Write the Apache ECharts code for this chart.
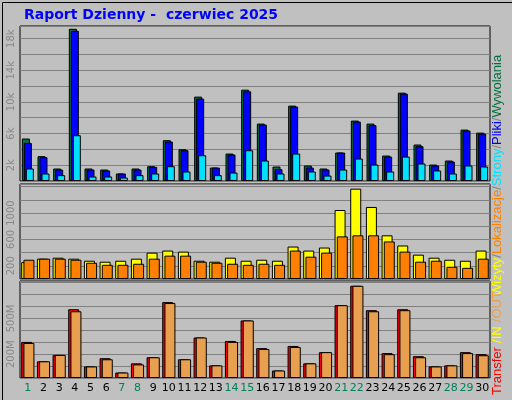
<!DOCTYPE html>
<html>
<head>
<meta charset="utf-8">
<script src="https://cdn.jsdelivr.net/npm/echarts@6/dist/echarts.min.js"></script>
<style>html,body{margin:0;padding:0;background:#fff}#c{width:512px;height:400px}</style>
</head>
<body>
<div id="c"></div>
<script>
var days = ['1','2','3','4','5','6','7','8','9','10','11','12','13','14','15','16','17','18','19','20','21','22','23','24','25','26','27','28','29','30'];
var weekend = ['1','7','8','14','15','21','22','28','29'];
// wywolania / pliki / strony (tysiace)
var hits  = [5.37,3.14,1.58,19.25,1.58,1.45,0.95,1.58,1.87,5.16,4.02,10.67,1.7,3.47,11.55,7.26,1.83,9.53,1.96,1.58,3.6,7.64,7.26,3.22,11.17,4.61,2.08,2.59,6.5,6.12];
var files = [4.82,3.01,1.45,19.0,1.45,1.33,0.95,1.45,1.79,4.99,3.89,10.42,1.7,3.35,11.34,7.13,1.49,9.41,1.7,1.45,3.6,7.51,7.05,3.09,11.05,4.4,1.96,2.46,6.38,5.99];
var pages = [1.58,0.95,0.74,5.79,0.57,0.57,0.44,0.74,0.95,1.87,1.2,3.26,0.74,1.07,3.89,2.59,0.95,3.47,1.2,0.69,1.45,2.84,2.08,1.2,3.09,2.21,1.33,0.95,1.96,1.83];
// wizyty / lokalizacje
var visits = [256,308,323,308,277,262,277,308,400,431,415,277,262,323,277,292,277,492,431,477,1046,1369,1092,662,508,369,323,292,277,431];
var sites  = [292,308,308,292,246,215,215,231,308,354,354,262,246,231,215,231,215,431,338,400,646,662,662,569,415,262,277,185,169,308];
// transfer (MB)
var transfer = [303,140,194,577,97,166,46,123,174,637,157,340,106,311,483,251,63,269,123,217,611,774,569,209,577,183,97,106,217,200];
var inout    = [294,140,194,560,97,157,46,114,174,629,157,340,106,303,483,243,63,260,123,217,611,774,560,200,569,174,97,106,209,191];

var chart = echarts.init(document.getElementById('c'));
var gridStyle = {show:true, backgroundColor:'#c0c0c0', borderColor:'#000', borderWidth:1};
var gl = {show:true, lineStyle:{color:'#808080', width:1}};
var yl = {rotate:90, color:'#888', fontSize:10, fontFamily:'DejaVu Sans', margin:4};
function bar(name, data, color, xi, w, gap) {
  return {name:name, type:'bar', data:data, xAxisIndex:xi, yAxisIndex:xi, barWidth:w, barGap:gap,
    itemStyle:{color:color, borderColor:'#000', borderWidth:1}, animation:false};
}
var option = {
  backgroundColor:'#c0c0c0',
  title:{text:'Raport Dzienny -  czerwiec 2025', left:19, top:3,
    textStyle:{color:'#0000ff', fontSize:14, fontWeight:'bold', fontFamily:'DejaVu Sans'}},
  grid:[
    Object.assign({left:20, right:22, top:26, height:155}, gridStyle),
    Object.assign({left:20, right:22, top:184, height:95}, gridStyle),
    Object.assign({left:20, right:22, top:281, height:97}, gridStyle)
  ],
  xAxis:[0,1,2].map(function(i){
    return {type:'category', data:days, gridIndex:i, axisTick:{show:false}, axisLine:{show:false},
      axisLabel:i<2 ? {show:false} : {interval:0, fontSize:11, fontFamily:'DejaVu Sans', margin:5,
        formatter:function(v){return weekend.indexOf(v)>=0 ? '{w|'+v+'}' : '{n|'+v+'}';},
        rich:{w:{color:'#00805a', fontSize:11}, n:{color:'#000', fontSize:11}}}};
  }),
  yAxis:[
    {gridIndex:0, min:0, max:19.6, interval:2, splitLine:gl, axisLine:{show:false}, axisTick:{show:false},
     axisLabel:Object.assign({formatter:function(v){return (v%4===2)?v+'k':'';}}, yl)},
    {gridIndex:1, min:0, max:1440, interval:200, splitLine:gl, axisLine:{show:false}, axisTick:{show:false},
     axisLabel:Object.assign({formatter:function(v){return (v%400===200 && v<=1000)?v:'';}}, yl)},
    {gridIndex:2, min:0, max:814, interval:100, splitLine:gl, axisLine:{show:false}, axisTick:{show:false},
     axisLabel:Object.assign({formatter:function(v){return (v===200||v===500)?v+'M':'';}}, yl)}
  ],
  series:[
    bar('Wywolania', hits, '#007040', 0, 8, '-75%'),
    bar('Pliki', files, '#0000ff', 0, 8, '-75%'),
    bar('Strony', pages, '#00e0ff', 0, 8, '-75%'),
    bar('Wizyty', visits, '#ffff00', 1, 11, '-80%'),
    bar('Lokalizacje', sites, '#ff8000', 1, 11, '-80%'),
    bar('Transfer', transfer, '#ff0000', 2, 11, '-80%'),
    bar('IN/OUT', inout, '#e8a050', 2, 11, '-80%')
  ],
  graphic:[
    {type:'rect', left:0, top:0, shape:{width:511, height:399}, style:{fill:null, stroke:'#000', lineWidth:1}, silent:true},
    {type:'text', x:491, y:296, rotation:Math.PI/2,
     style:{text:'{y|Wizyty}{g|/}{o|Lokalizacje}{g|/}{c|Strony}{g|/}{b|Pliki}{g|/}{d|Wywolania}', fontSize:13, fontFamily:'DejaVu Sans',
       rich:{y:{fill:'#ffff00',fontSize:13},o:{fill:'#ff8000',fontSize:13},c:{fill:'#00e0ff',fontSize:13},b:{fill:'#0000ff',fontSize:13},d:{fill:'#007040',fontSize:13},g:{fill:'#808080',fontSize:13}}}},
    {type:'text', x:491, y:395, rotation:Math.PI/2,
     style:{text:'{r|Transfer} {y|/IN} {o|/OUT}', fontSize:13, fontFamily:'DejaVu Sans',
       rich:{r:{fill:'#ff0000',fontSize:13},y:{fill:'#ffff00',fontSize:13},o:{fill:'#e8a050',fontSize:13}}}}
  ]
};
chart.setOption(option);
</script>
</body>
</html>
